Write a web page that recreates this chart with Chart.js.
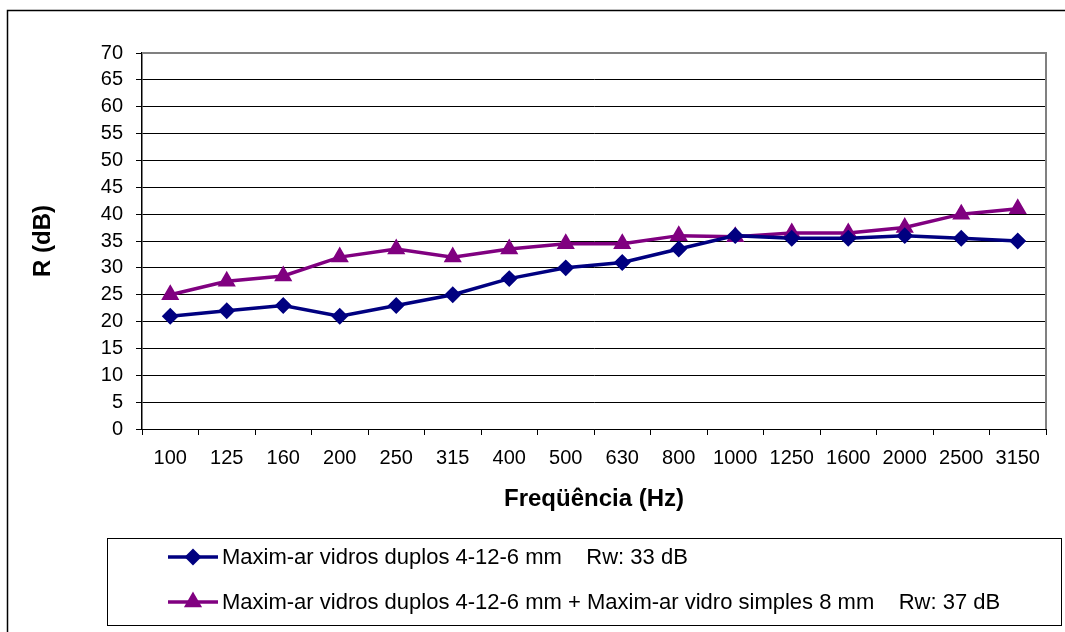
<!DOCTYPE html>
<html lang="pt-BR">
<head>
<meta charset="utf-8">
<title>R (dB) x Freqüência</title>
<script src="https://cdn.jsdelivr.net/npm/chart.js@4/dist/chart.umd.min.js"></script>
<style>
  html, body { margin: 0; padding: 0; background: #fff; }
  canvas { display: block; }
</style>
</head>
<body>
<canvas id="grafico" width="1065" height="632"></canvas>
<script>
// Frequências de banda de terço de oitava (Hz)
const frequencias = ['100', '125', '160', '200', '250', '315', '400', '500', '630', '800', '1000', '1250', '1600', '2000', '2500', '3150'];

// Isolamento R (dB) medido para cada configuração
const duplos = [21, 22, 23, 21, 23, 25, 28, 30, 31, 33.5, 36, 35.5, 35.5, 36, 35.5, 35];
const duplosMaisSimples = [25, 27.5, 28.5, 32, 33.5, 32, 33.5, 34.5, 34.5, 36, 35.8, 36.5, 36.5, 37.5, 40, 41];

const rotulos = [
    'Maxim-ar vidros duplos 4-12-6 mm    Rw: 33 dB',
    'Maxim-ar vidros duplos 4-12-6 mm + Maxim-ar vidro simples 8 mm    Rw: 37 dB'
];

const marcasY = [0, 5, 10, 15, 20, 25, 30, 35, 40, 45, 50, 55, 60, 65, 70];

const FONTE = '"Liberation Sans", Arial, Helvetica, sans-serif';
Chart.defaults.font.family = FONTE;
Chart.defaults.color = '#000';

// moldura externa, borda da área de plotagem e legenda em caixa
const moldura = {
    id: 'moldura',
    beforeDraw(chart) {
        const ctx = chart.ctx;
        ctx.save();
        ctx.fillStyle = '#fff';
        ctx.fillRect(0, 0, chart.width, chart.height);
        ctx.strokeStyle = '#000';
        ctx.lineWidth = 1.5;
        ctx.strokeRect(7.5, 10.5, chart.width + 20, chart.height + 20);
        ctx.restore();
    },
    beforeDatasetsDraw(chart) {
        const { ctx, chartArea: a } = chart;
        ctx.save();
        ctx.strokeStyle = '#808080';
        ctx.lineWidth = 2;
        ctx.beginPath();
        ctx.moveTo(a.left, a.top);
        ctx.lineTo(a.right, a.top);
        ctx.lineTo(a.right, a.bottom);
        ctx.stroke();
        ctx.restore();
    },
    afterDraw(chart) {
        const ctx = chart.ctx;
        ctx.save();
        ctx.strokeStyle = '#000';
        ctx.lineWidth = 1;
        ctx.strokeRect(107.5, 538.5, 954, 87);

        const linhasY = [557, 602];
        chart.data.datasets.forEach((ds, i) => {
            const y = linhasY[i];
            ctx.strokeStyle = ds.borderColor;
            ctx.lineWidth = ds.borderWidth;
            ctx.beginPath();
            ctx.moveTo(168, y);
            ctx.lineTo(218, y);
            ctx.stroke();
            ctx.fillStyle = ds.pointBackgroundColor;
            ctx.strokeStyle = ds.pointBorderColor;
            Chart.helpers.drawPoint(ctx, {
                pointStyle: ds.pointStyle,
                radius: ds.pointRadius,
                borderWidth: 1,
                rotation: 0
            }, 193, y);
            ctx.fillStyle = '#000';
            ctx.font = '22px ' + FONTE;
            ctx.textBaseline = 'middle';
            ctx.textAlign = 'left';
            ctx.fillText(rotulos[i], 222, y + 1);
        });
        ctx.restore();
    }
};

new Chart(document.getElementById('grafico'), {
    type: 'line',
    data: {
        labels: frequencias,
        datasets: [
            {
                label: rotulos[0],
                data: duplos,
                borderColor: '#000080',
                backgroundColor: '#000080',
                pointBackgroundColor: '#000080',
                pointBorderColor: '#000080',
                borderWidth: 3.5,
                pointStyle: 'rectRot',
                pointRadius: 6,
                tension: 0
            },
            {
                label: rotulos[1],
                data: duplosMaisSimples,
                borderColor: '#800080',
                backgroundColor: '#800080',
                pointBackgroundColor: '#800080',
                pointBorderColor: '#800080',
                borderWidth: 3.5,
                pointStyle: 'triangle',
                pointRadius: 7,
                tension: 0
            }
        ]
    },
    options: {
        responsive: false,
        animation: false,
        layout: { padding: { left: 0, top: 53, right: 19, bottom: 0 } },
        plugins: {
            legend: { display: false },
            tooltip: { enabled: false }
        },
        scales: {
            x: {
                offset: true,
                grid: {
                    offset: true,
                    drawOnChartArea: false,
                    color: '#000',
                    tickLength: 6
                },
                border: { color: '#000', width: 1 },
                ticks: { font: { size: 20 }, color: '#000', padding: 11, maxRotation: 0, autoSkip: false },
                title: {
                    display: true,
                    text: 'Freqüência (Hz)',
                    font: { size: 24, weight: 'bold' },
                    color: '#000',
                    padding: { top: 0, bottom: 118 }
                },
                afterFit(scale) { scale.height = 203; }
            },
            y: {
                min: 0,
                max: 70,
                afterBuildTicks(scale) { scale.ticks = marcasY.map(v => ({ value: v })); },
                grid: { color: '#000', lineWidth: 1, tickLength: 6 },
                border: { color: '#000', width: 1.5 },
                ticks: { font: { size: 20, lineHeight: 1 }, color: '#000', padding: 13, autoSkip: false },
                title: {
                    display: true,
                    text: 'R (dB)',
                    font: { size: 24, weight: 'bold' },
                    color: '#000',
                    padding: { top: 29, bottom: 0 }
                },
                afterFit(scale) { scale.width = 142; }
            }
        }
    },
    plugins: [moldura]
});
</script>
</body>
</html>
